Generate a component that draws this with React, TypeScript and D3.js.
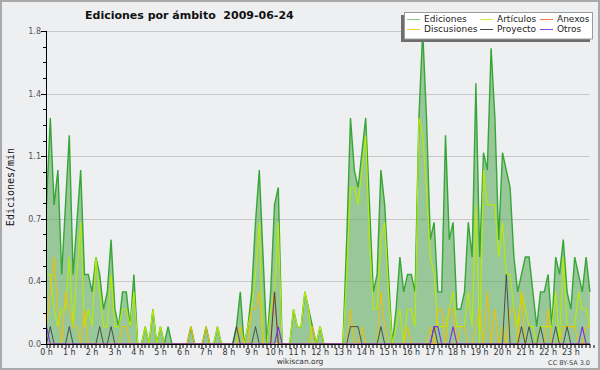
import * as d3 from 'd3';
import { useEffect, useRef } from 'react';

// one value every 10 minutes, 6 per hour (rows = hours 0..23)
const ediciones = [
  0.8, 1.3, 0.8, 1.0, 0.4, 0.8,
  1.2, 0.4, 0.7, 1.0, 0.4, 0.4,
  0.3, 0.5, 0.4, 0.2, 0.3, 0.6,
  0.2, 0.1, 0.3, 0.3, 0.1, 0.4,
  0, 0, 0.1, 0, 0.2, 0,
  0.1, 0, 0.1, 0, 0, 0,
  0, 0, 0.1, 0, 0, 0,
  0.1, 0, 0, 0.1, 0, 0,
  0, 0, 0.1, 0.3, 0, 0.1,
  0.3, 0.7, 1.0, 0.5, 0, 0.3,
  0.8, 0.9, 0, 0, 0, 0.2,
  0.1, 0.1, 0.3, 0.2, 0.1, 0,
  0.1, 0, 0, 0, 0, 0,
  0, 0.6, 1.3, 1.0, 0.9, 1.1,
  1.3, 0.8, 0.3, 0.4, 1.0, 0.8,
  0.4, 0, 0.2, 0.5, 0.3, 0.4,
  0.4, 0.3, 1.3, 1.8, 1.3, 0.6,
  0.7, 0.3, 0.3, 1.2, 0.6, 0.7,
  0.2, 0.2, 0.3, 0.7, 0.5, 1.5,
  0.5, 1.1, 1.0, 1.7, 1.3, 0.6,
  1.1, 1.0, 0.9, 0.5, 0.3, 0.4,
  0.5, 0.5, 0.3, 0.1, 0.3, 0.3,
  0.4, 0.1, 0.5, 0.4, 0.6, 0.3,
  0.2, 0.5, 0.4, 0.3, 0.5, 0.3,
];

const articulos = [
  0.4, 0.4, 0.2, 0.1, 0.2, 0.2,
  0.5, 0.1, 0.4, 0.7, 0.1, 0.2,
  0.1, 0.5, 0.3, 0.1, 0.1, 0.4,
  0.1, 0.1, 0.2, 0.2, 0.1, 0.3,
  0, 0, 0.1, 0, 0.2, 0,
  0.1, 0, 0, 0, 0, 0,
  0, 0, 0, 0, 0, 0,
  0, 0, 0, 0.1, 0, 0,
  0, 0, 0, 0.1, 0, 0.1,
  0.2, 0.4, 0.7, 0, 0, 0.2,
  0.3, 0.7, 0, 0, 0, 0.2,
  0.1, 0.1, 0.3, 0.2, 0, 0,
  0.1, 0, 0, 0, 0, 0,
  0, 0.4, 0.9, 0.9, 0.8, 1.0,
  1.2, 0.6, 0.2, 0.2, 0.6, 0.7,
  0.3, 0, 0.1, 0.2, 0, 0.2,
  0.2, 0.1, 1.3, 1.2, 0.9, 0.5,
  0.4, 0.1, 0.1, 0.1, 0.2, 0.3,
  0.1, 0.1, 0.1, 0.3, 0.1, 0.8,
  0, 1.0, 0.8, 0.8, 0.8, 0.5,
  0.7, 0.4, 0.4, 0.2, 0.1, 0.3,
  0.2, 0.1, 0.1, 0, 0.1, 0.1,
  0.1, 0.1, 0.3, 0, 0.5, 0.1,
  0.1, 0.1, 0.3, 0.2, 0.2, 0.1,
];

const discusiones = [
  0.1, 0.3, 0.5, 0.2, 0, 0.3,
  0.2, 0.1, 0.1, 0, 0.2, 0,
  0, 0, 0, 0, 0, 0,
  0, 0, 0.1, 0.1, 0, 0,
  0, 0, 0, 0, 0, 0,
  0, 0, 0, 0, 0, 0,
  0, 0, 0.1, 0, 0, 0,
  0.1, 0, 0, 0, 0, 0,
  0, 0, 0, 0.1, 0, 0,
  0.2, 0.2, 0.3, 0, 0, 0,
  0, 0, 0, 0, 0, 0,
  0, 0, 0, 0, 0.1, 0,
  0, 0, 0, 0, 0, 0,
  0, 0, 0.2, 0, 0, 0.1,
  0, 0, 0, 0, 0.3, 0.1,
  0, 0, 0, 0, 0, 0.1,
  0, 0, 0, 0, 0, 0.1,
  0, 0.2, 0.2, 0, 0.2, 0.2,
  0, 0.1, 0.1, 0, 0, 0.1,
  0.2, 0, 0.3, 0, 0.2, 0,
  0.1, 0, 0.2, 0.2, 0, 0.3,
  0, 0, 0, 0, 0, 0,
  0.2, 0, 0, 0, 0.1, 0.1,
  0.1, 0.1, 0, 0, 0.1, 0.1,
];

const anexos = [
  0, 0, 0, 0, 0, 0,
  0, 0, 0, 0, 0, 0,
  0, 0, 0, 0, 0, 0,
  0, 0, 0, 0, 0, 0,
  0, 0, 0, 0, 0, 0,
  0, 0, 0, 0, 0, 0,
  0, 0, 0, 0, 0, 0,
  0, 0, 0, 0, 0, 0,
  0, 0, 0, 0, 0, 0,
  0, 0, 0, 0, 0, 0,
  0.3, 0, 0, 0, 0, 0,
  0, 0, 0, 0, 0, 0,
  0, 0, 0, 0, 0, 0,
  0, 0, 0, 0, 0, 0,
  0, 0, 0, 0, 0, 0,
  0, 0, 0, 0, 0, 0,
  0, 0, 0, 0, 0, 0,
  0, 0, 0, 0, 0, 0,
  0, 0, 0, 0, 0, 0,
  0, 0, 0, 0, 0, 0,
  0, 0, 0, 0, 0, 0,
  0, 0, 0, 0, 0, 0,
  0, 0, 0, 0, 0, 0,
  0, 0, 0, 0, 0, 0,
];

const proyecto = [
  0, 0.1, 0, 0, 0, 0,
  0.1, 0, 0, 0, 0, 0,
  0, 0, 0.1, 0, 0, 0.1,
  0, 0, 0, 0, 0, 0,
  0, 0, 0, 0, 0, 0,
  0, 0, 0, 0, 0, 0,
  0, 0, 0, 0, 0, 0,
  0, 0, 0, 0, 0, 0,
  0, 0, 0.1, 0, 0, 0,
  0, 0.1, 0, 0, 0, 0,
  0.3, 0, 0, 0, 0, 0,
  0, 0, 0, 0, 0, 0,
  0, 0, 0, 0, 0, 0,
  0, 0, 0.1, 0.1, 0.1, 0,
  0, 0, 0, 0, 0.1, 0,
  0, 0, 0, 0, 0, 0,
  0, 0, 0, 0, 0, 0,
  0.1, 0, 0, 0, 0, 0,
  0, 0, 0, 0, 0, 0,
  0, 0, 0, 0, 0, 0,
  0, 0.4, 0, 0, 0, 0.1,
  0, 0.1, 0, 0, 0.1, 0,
  0, 0, 0.1, 0, 0, 0.1,
  0, 0, 0, 0, 0, 0,
];

const otros = [
  0.1, 0, 0, 0, 0, 0,
  0, 0, 0, 0, 0, 0,
  0, 0, 0, 0, 0, 0,
  0, 0, 0, 0, 0, 0,
  0, 0, 0, 0, 0, 0,
  0, 0, 0, 0, 0, 0,
  0, 0, 0, 0, 0, 0,
  0, 0, 0, 0, 0, 0,
  0, 0, 0, 0, 0, 0,
  0, 0, 0, 0, 0, 0,
  0, 0.1, 0, 0, 0, 0,
  0, 0, 0, 0, 0, 0,
  0, 0, 0, 0, 0, 0,
  0, 0, 0, 0, 0, 0,
  0, 0, 0, 0, 0, 0,
  0, 0, 0, 0, 0, 0,
  0, 0, 0, 0, 0, 0,
  0.1, 0.1, 0, 0, 0, 0.1,
  0, 0, 0, 0, 0, 0,
  0, 0, 0, 0, 0, 0,
  0, 0, 0, 0, 0, 0,
  0, 0, 0, 0, 0, 0,
  0, 0, 0, 0, 0, 0,
  0, 0, 0, 0.1, 0, 0,
];

const hourLabels = [
  '0 h', '1 h', '2 h', '3 h', '4 h', '5 h', '6 h', '7 h', '8 h', '9 h', '10 h', '11 h',
  '12 h', '13 h', '14 h', '15 h', '16 h', '17 h', '18 h', '19 h', '20 h', '21 h', '22 h', '23 h',
];
const yTicks = [0, 0.36, 0.72, 1.08, 1.44, 1.8];

export default function App() {
  const d3Container = useRef<SVGSVGElement | null>(null);

  useEffect(() => {
    if (!d3Container.current) return;
    const svg = d3.select(d3Container.current);
    svg.selectAll('*').remove();

    const W = 600;
    const H = 370;
    const font = 'DejaVu Sans, sans-serif';

    const x = d3.scaleLinear().domain([0, ediciones.length - 1]).range([46.5, 589.9]);
    const y = d3.scaleLinear().domain([0, 1.8]).range([344, 31]);
    const px = (v: number) => Math.round(v) + 0.5;

    // background + frame
    svg.append('rect').attr('width', W).attr('height', H).attr('fill', '#eeeff1');
    svg
      .append('rect')
      .attr('x', 1)
      .attr('y', 1)
      .attr('width', W - 2)
      .attr('height', H - 2)
      .attr('fill', 'none')
      .attr('stroke', '#a9a9a9')
      .attr('stroke-width', 2);

    // grid
    svg
      .append('g')
      .selectAll('line')
      .data(yTicks.slice(1))
      .join('line')
      .attr('x1', 47)
      .attr('x2', 590)
      .attr('y1', (d) => px(y(d)))
      .attr('y2', (d) => px(y(d)))
      .attr('stroke', '#c8c8c8');

    // Ediciones area
    const area = d3
      .area<number>()
      .x((_, i) => x(i))
      .y0(y(0))
      .y1((d) => y(d));
    svg
      .append('path')
      .datum(ediciones)
      .attr('d', area)
      .attr('fill', 'rgba(66,160,66,0.5)');

    const line = d3
      .line<number>()
      .x((_, i) => x(i))
      .y((d) => y(d));

    const series = [
      { name: 'Ediciones', values: ediciones, color: '#36a636', width: 1.4 },
      { name: 'Artículos', values: articulos, color: '#b8ec00', width: 1.1 },
      { name: 'Discusiones', values: discusiones, color: '#f2c100', width: 1 },
      { name: 'Anexos', values: anexos, color: '#ff6a2a', width: 1 },
      { name: 'Proyecto', values: proyecto, color: '#3c3c3c', width: 1 },
      { name: 'Otros', values: otros, color: '#7a2ee6', width: 1.1 },
    ];

    series.forEach((s) => {
      svg
        .append('path')
        .datum(s.values)
        .attr('d', line)
        .attr('fill', 'none')
        .attr('stroke', s.color)
        .attr('stroke-width', s.width)
        .attr('stroke-linejoin', 'miter')
        .attr('opacity', s.name === 'Proyecto' ? 0.85 : 1);
    });

    // y axis
    const yAxis = svg.append('g');
    yAxis
      .append('line')
      .attr('x1', 46.5)
      .attr('x2', 46.5)
      .attr('y1', y(1.8))
      .attr('y2', 344.5)
      .attr('stroke', '#000');
    const minor = d3.range(0, 21).map((k) => k * 0.09);
    yAxis
      .selectAll('line.minor')
      .data(minor)
      .join('line')
      .attr('class', 'minor')
      .attr('x1', (_, k) => (k % 4 === 0 ? 41 : 43))
      .attr('x2', 46)
      .attr('y1', (d) => px(y(d)))
      .attr('y2', (d) => px(y(d)))
      .attr('stroke', '#000');
    yAxis
      .selectAll('text')
      .data(yTicks)
      .join('text')
      .attr('x', 41)
      .attr('y', (d) => y(d) + 3)
      .attr('text-anchor', 'end')
      .attr('font-family', font)
      .attr('font-size', 8)
      .attr('fill', '#555')
      .text((d) => d3.format('.1f')(d));

    // x axis
    const xAxis = svg.append('g');
    xAxis
      .append('line')
      .attr('x1', 46)
      .attr('x2', 590.5)
      .attr('y1', 344.5)
      .attr('y2', 344.5)
      .attr('stroke', '#000');
    xAxis
      .selectAll('line.tick')
      .data(d3.range(0, ediciones.length + 1))
      .join('line')
      .attr('class', 'tick')
      .attr('x1', (d) => px(x(d)) - 0.5)
      .attr('x2', (d) => px(x(d)) - 0.5)
      .attr('y1', 345)
      .attr('y2', 348)
      .attr('stroke', '#000');
    xAxis
      .selectAll('text')
      .data(hourLabels)
      .join('text')
      .attr('x', (_, h) => x(h * 6))
      .attr('y', 355)
      .attr('text-anchor', 'middle')
      .attr('font-family', font)
      .attr('font-size', 8)
      .attr('fill', '#333')
      .text((d) => d);

    // labels
    svg
      .append('text')
      .attr('transform', 'translate(13.5,187) rotate(-90)')
      .attr('text-anchor', 'middle')
      .attr('font-family', 'DejaVu Sans Mono, monospace')
      .attr('font-size', 10)
      .attr('fill', '#111')
      .text('Ediciones/min');
    svg
      .append('text')
      .attr('x', 85)
      .attr('y', 19)
      .attr('font-family', font)
      .attr('font-weight', 'bold')
      .attr('font-size', 11)
      .attr('fill', '#111')
      .attr('xml:space', 'preserve')
      .style('white-space', 'pre')
      .text('Ediciones por ámbito  2009-06-24');
    svg
      .append('text')
      .attr('x', 300)
      .attr('y', 364)
      .attr('text-anchor', 'middle')
      .attr('font-family', font)
      .attr('font-size', 7.5)
      .attr('fill', '#333')
      .text('wikiscan.org');
    svg
      .append('text')
      .attr('x', 590)
      .attr('y', 365)
      .attr('text-anchor', 'end')
      .attr('font-family', font)
      .attr('font-size', 6.5)
      .attr('fill', '#444')
      .text('CC BY-SA 3.0');

    // legend
    const lg = svg.append('g');
    lg.append('rect').attr('x', 401).attr('y', 15).attr('width', 189).attr('height', 27).attr('fill', '#6e6e6e');
    lg.append('rect')
      .attr('x', 404.5)
      .attr('y', 12.5)
      .attr('width', 188)
      .attr('height', 26.5)
      .attr('fill', '#fff')
      .attr('stroke', '#9a9a9a');
    const legendItems = [
      { name: 'Ediciones', color: '#80cc80', col: 0, row: 0 },
      { name: 'Artículos', color: '#c8f040', col: 1, row: 0 },
      { name: 'Anexos', color: '#ff7a45', col: 2, row: 0 },
      { name: 'Discusiones', color: '#ffcc33', col: 0, row: 1 },
      { name: 'Proyecto', color: '#444', col: 1, row: 1 },
      { name: 'Otros', color: '#8a44ee', col: 2, row: 1 },
    ];
    const colX = [407, 480, 540];
    const item = lg
      .selectAll('g.item')
      .data(legendItems)
      .join('g')
      .attr('class', 'item')
      .attr('transform', (d) => `translate(${colX[d.col]},${19.5 + d.row * 10})`);
    item
      .append('line')
      .attr('x1', 0)
      .attr('x2', 13)
      .attr('stroke', (d) => d.color)
      .attr('stroke-width', 1);
    item
      .append('text')
      .attr('x', 17)
      .attr('y', 2.5)
      .attr('font-family', font)
      .attr('font-size', 9)
      .attr('fill', '#222')
      .text((d) => d.name);
  }, []);

  return (
    <svg
      ref={d3Container}
      width={600}
      height={370}
      style={{ position: 'absolute', left: 0, top: 0, display: 'block' }}
    />
  );
}
